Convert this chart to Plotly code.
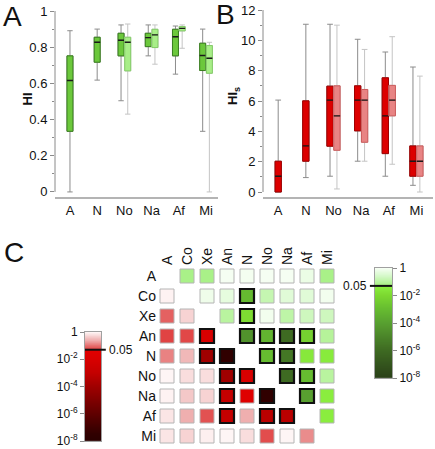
import numpy as np
import plotly.graph_objects as go

W, H = 435, 449

# ---------------- data ----------------
CATS = ["A", "N", "No", "Na", "Af", "Mi"]

# Panel A (HI): dark series for all categories, light series for No..Mi
HI_DARK_Q1 = [0.335, 0.717, 0.752, 0.803, 0.752, 0.671]
HI_DARK_MED = [0.616, 0.827, 0.838, 0.853, 0.858, 0.754]
HI_DARK_Q3 = [0.752, 0.855, 0.877, 0.877, 0.899, 0.822]
HI_DARK_LO = [0.0, 0.618, 0.504, 0.752, 0.651, 0.335]
HI_DARK_HI = [0.891, 0.900, 0.923, 0.923, 0.917, 0.900]

HI_LIGHT_Q1 = [None, None, 0.669, 0.798, 0.890, 0.656]
HI_LIGHT_MED = [None, None, 0.827, 0.868, 0.904, 0.739]
HI_LIGHT_Q3 = [None, None, 0.855, 0.899, 0.914, 0.809]
HI_LIGHT_LO = [None, None, 0.430, 0.706, 0.794, 0.0]
HI_LIGHT_HI = [None, None, 0.928, 0.923, 0.923, 0.827]

# Panel B (HIs)
HIS_DARK_Q1 = [0.0, 2.03, 3.02, 4.03, 2.53, 1.04]
HIS_DARK_MED = [1.04, 3.04, 6.06, 6.06, 5.02, 2.03]
HIS_DARK_Q3 = [2.03, 6.01, 6.98, 7.0, 7.53, 3.04]
HIS_DARK_LO = [0.0, 0.95, 1.04, 2.03, 1.04, 0.44]
HIS_DARK_HI = [6.06, 11.06, 11.06, 10.07, 9.23, 8.24]

HIS_LIGHT_Q1 = [None, None, 2.75, 3.28, 5.02, 1.04]
HIS_LIGHT_MED = [None, None, 5.02, 6.06, 6.06, 2.03]
HIS_LIGHT_Q3 = [None, None, 7.0, 6.76, 7.03, 3.04]
HIS_LIGHT_LO = [None, None, 0.2, 2.03, 1.83, 0.0]
HIS_LIGHT_HI = [None, None, 11.0, 9.4, 10.24, 7.64]

# Panel C: pairwise p-values (upper triangle -> green, lower triangle -> red)
GROUPS = ["A", "Co", "Xe", "An", "N", "No", "Na", "Af", "Mi"]
P = [
    [None, 0.06, 0.06, 0.9, 0.85, 0.9, 0.9, 0.6, 0.06],
    [0.9, None, 0.7, 0.5, 8e-4, 0.15, 0.4, 0.4, 0.8],
    [0.08, 0.5, None, 0.1, 0.012, 0.8, 0.12, 0.2, 0.2],
    [0.052, 0.055, 0.01, None, 3e-5, 5e-4, 1e-6, 5e-3, 0.09],
    [0.13, 0.3, 1e-4, 3e-8, None, 1e-3, 3e-6, 0.03, 0.035],
    [0.95, 0.6, 0.6, 1e-4, 0.01, None, 1e-6, 1e-3, 0.1],
    [0.9, 0.4, 0.5, 1e-3, 0.03, 3e-8, None, 1e-4, 0.04],
    [0.7, 0.25, 0.065, 1e-3, 0.25, 5e-4, 5e-4, None, 0.04],
    [0.7, 0.5, 0.85, 0.95, 0.6, 0.06, 0.95, 0.15, None],
]
BOLD = [
    [0, 0, 0, 0, 0, 0, 0, 0, 0],
    [0, 0, 0, 0, 1, 0, 0, 0, 0],
    [0, 0, 0, 0, 1, 0, 0, 0, 0],
    [0, 0, 1, 0, 1, 1, 1, 1, 0],
    [0, 0, 1, 1, 0, 1, 1, 0, 0],
    [0, 0, 0, 1, 1, 0, 1, 1, 0],
    [0, 0, 0, 1, 0, 1, 0, 1, 0],
    [0, 0, 0, 1, 0, 1, 1, 0, 0],
    [0, 0, 0, 0, 0, 0, 0, 0, 0],
]
BAR_TICKS = [0, -2, -4, -6, -8]
BAR_TICKTEXT = ["1", "10<sup>-2</sup>", "10<sup>-4</sup>", "10<sup>-6</sup>", "10<sup>-8</sup>"]
THRESH = 0.05

# ---------------- styling ----------------
FONT = "Liberation Sans, Arial, sans-serif"
T05 = (np.log10(THRESH) + 8) / 8
GREEN_SCALE = [
    [0.0, "#2a4018"], [0.25, "#3e6a22"], [0.5, "#58a030"], [0.625, "#66bc30"],
    [0.75, "#7cd830"], [T05 - 1e-4, "#8cf040"], [T05 + 1e-4, "#a4f080"],
    [0.92, "#d2f8c4"], [1.0, "#f8fff6"],
]
RED_SCALE = [
    [0.0, "#2a0000"], [0.0625, "#300000"], [0.25, "#600000"], [0.5, "#a00000"],
    [0.625, "#c40000"], [0.75, "#d80000"], [T05 - 1e-4, "#e20000"],
    [T05 + 1e-4, "#e04040"], [0.92, "#eeaaaa"], [1.0, "#fff8f8"],
]


def dom_x(a, b):
    return [a / W, b / W]


def dom_y(top, bottom):
    return [1 - bottom / H, 1 - top / H]


fig = go.Figure()
has_pair = [HI_LIGHT_Q1[i] is not None for i in range(len(CATS))]


def add_panel(xa, ya, dq, lq, dark_fill, dark_border, light_fill, light_border, width, off):
    for series, fill, border, whisk, sign in ((dq, dark_fill, dark_border, "#8c8c8c", -1),
                                               (lq, light_fill, light_border, "#c4c4c4", 1)):
        q1, med, q3, lo, hi = series
        pos, Q1, MED, Q3, LO, HI_ = [], [], [], [], [], []
        for i in range(len(CATS)):
            if q1[i] is None:
                continue
            pos.append(i + sign * off if has_pair[i] else i)
            Q1.append(q1[i]); MED.append(med[i]); Q3.append(q3[i]); LO.append(lo[i]); HI_.append(hi[i])
        common = dict(x=pos, width=width, xaxis=xa, yaxis=ya, showlegend=False,
                      boxpoints=False, hoverinfo="skip")
        # whiskers (gray)
        fig.add_trace(go.Box(q1=Q1, median=MED, q3=Q3, lowerfence=LO, upperfence=HI_,
                             fillcolor=fill, line=dict(color=whisk, width=1),
                             whiskerwidth=0.9, **common))
        # coloured box
        fig.add_trace(go.Box(q1=Q1, median=MED, q3=Q3, lowerfence=Q1, upperfence=Q3,
                             fillcolor=fill, line=dict(color=border, width=1),
                             whiskerwidth=0, **common))
        # median line
        fig.add_trace(go.Box(q1=MED, median=MED, q3=MED, lowerfence=MED, upperfence=MED,
                             fillcolor="rgba(0,0,0,0)", line=dict(color="#1a1a1a", width=1.4),
                             whiskerwidth=0, **common))


add_panel("x", "y",
          (HI_DARK_Q1, HI_DARK_MED, HI_DARK_Q3, HI_DARK_LO, HI_DARK_HI),
          (HI_LIGHT_Q1, HI_LIGHT_MED, HI_LIGHT_Q3, HI_LIGHT_LO, HI_LIGHT_HI),
          "#6cc83c", "#3a8020", "#a8ee88", "#84cc68", 0.22, 0.123)
add_panel("x2", "y2",
          (HIS_DARK_Q1, HIS_DARK_MED, HIS_DARK_Q3, HIS_DARK_LO, HIS_DARK_HI),
          (HIS_LIGHT_Q1, HIS_LIGHT_MED, HIS_LIGHT_Q3, HIS_LIGHT_LO, HIS_LIGHT_HI),
          "#dc0000", "#a00000", "#e88484", "#cc5c5c", 0.23, 0.125)

# Panel C: cells
for upper, scale in ((True, GREEN_SCALE), (False, RED_SCALE)):
    xs, ys, vals, lw, lc = [], [], [], [], []
    for i in range(len(GROUPS)):
        for j in range(len(GROUPS)):
            p = P[i][j]
            if p is None or (j > i) != upper:
                continue
            xs.append(j); ys.append(i); vals.append(np.log10(p))
            lw.append(2.2 if BOLD[i][j] else 1)
            lc.append("#111111" if BOLD[i][j] else "#b4b4b4")
    fig.add_trace(go.Scatter(
        x=xs, y=ys, mode="markers", xaxis="x3", yaxis="y3", showlegend=False,
        hoverinfo="skip",
        marker=dict(symbol="square", size=14, color=vals, colorscale=scale,
                    cmin=-8, cmax=0, line=dict(width=lw, color=lc)),
    ))

# colour bars
RAMP = np.linspace(-8, 0, 481)
for xa, ya, scale in (("x4", "y4", GREEN_SCALE), ("x5", "y5", RED_SCALE)):
    fig.add_trace(go.Heatmap(x=[0], y=RAMP, z=[[v] for v in RAMP], colorscale=scale,
                             zmin=-8, zmax=0, showscale=False, xaxis=xa, yaxis=ya,
                             hoverinfo="skip"))

AX_GRAY = "#b4b4b4"
TICK_GRAY = "#8a8a8a"
tickfont = dict(family=FONT, size=13, color="#111")

layout = dict(
    width=W, height=H, margin=dict(l=0, r=0, t=0, b=0, autoexpand=False),
    paper_bgcolor="white", plot_bgcolor="white",
    font=dict(family=FONT, color="#111"),
    xaxis=dict(domain=dom_x(55, 218), anchor="y", range=[-0.55, 5.44],
               tickvals=list(range(len(CATS))), ticktext=CATS, ticks="",
               showline=True, linecolor=AX_GRAY, linewidth=2, showgrid=False,
               zeroline=False, tickfont=tickfont),
    yaxis=dict(domain=dom_y(11, 197), anchor="x", range=[-0.028, 1.0],
               tickvals=[0, 0.2, 0.4, 0.6, 0.8, 1.0], ticks="outside", ticklen=4,
               tickcolor=TICK_GRAY, showline=False, showgrid=False, zeroline=False,
               minor=dict(dtick=0.1, ticks="outside", ticklen=2, tickcolor=TICK_GRAY),
               tickfont=tickfont),
    xaxis2=dict(domain=dom_x(263, 433), anchor="y2", range=[-0.55, 5.6],
                tickvals=list(range(len(CATS))), ticktext=CATS, ticks="",
                showline=True, linecolor=AX_GRAY, linewidth=2, showgrid=False,
                zeroline=False, tickfont=tickfont),
    yaxis2=dict(domain=dom_y(10, 197), anchor="x2", range=[-0.33, 12],
                tickvals=[0, 2, 4, 6, 8, 10, 12], ticks="outside", ticklen=4,
                tickcolor=TICK_GRAY, showline=False, showgrid=False, zeroline=False,
                minor=dict(dtick=1, ticks="outside", ticklen=2, tickcolor=TICK_GRAY),
                tickfont=tickfont),
    xaxis3=dict(domain=dom_x(157, 337), anchor="y3", range=[-0.5, 8.5], side="top",
                tickvals=list(range(len(GROUPS))), ticktext=GROUPS, tickangle=-90,
                ticks="", showline=False, showgrid=False, zeroline=False,
                tickfont=dict(family=FONT, size=14, color="#111")),
    yaxis3=dict(domain=dom_y(266, 446), anchor="x3", range=[8.5, -0.5],
                tickvals=list(range(len(GROUPS))), ticktext=GROUPS,
                ticks="", showline=False, showgrid=False, zeroline=False,
                tickfont=dict(family=FONT, size=14, color="#111")),
    xaxis4=dict(domain=dom_x(375, 392), anchor="y4", range=[-0.5, 0.5],
                showticklabels=False, ticks="", showgrid=False, zeroline=False,
                showline=True, mirror=True, linecolor="#a0a0a0", linewidth=1),
    yaxis4=dict(domain=dom_y(268, 378), anchor="x4", range=[-8, 0], side="right",
                tickvals=BAR_TICKS, ticktext=BAR_TICKTEXT, ticks="outside", ticklen=4,
                tickcolor=TICK_GRAY, showgrid=False, zeroline=False,
                showline=True, mirror=True, linecolor="#a0a0a0", linewidth=1,
                tickfont=dict(family=FONT, size=12, color="#111")),
    xaxis5=dict(domain=dom_x(85, 101), anchor="y5", range=[-0.5, 0.5],
                showticklabels=False, ticks="", showgrid=False, zeroline=False,
                showline=True, mirror=True, linecolor="#a0a0a0", linewidth=1),
    yaxis5=dict(domain=dom_y(332, 441), anchor="x5", range=[-8, 0], side="left",
                tickvals=BAR_TICKS, ticktext=BAR_TICKTEXT, ticks="outside", ticklen=4,
                tickcolor=TICK_GRAY, showgrid=False, zeroline=False,
                showline=True, mirror=True, linecolor="#a0a0a0", linewidth=1,
                tickfont=dict(family=FONT, size=12, color="#111")),
)
for k in list(layout):
    if k.startswith("xaxis") or k.startswith("yaxis"):
        layout[k]["automargin"] = False
        layout[k]["ticklabeloverflow"] = "allow"
fig.update_layout(**layout)

l05 = float(np.log10(THRESH))
shapes = [
    # vertical y-axis lines spanning only the tick range
    dict(type="line", xref="x domain", yref="y", x0=0, x1=0, y0=0, y1=1,
         line=dict(color=TICK_GRAY, width=1)),
    dict(type="line", xref="x2 domain", yref="y2", x0=0, x1=0, y0=0, y1=12,
         line=dict(color=TICK_GRAY, width=1)),
    # 0.05 markers on colour bars
    dict(type="line", xref="x4 domain", yref="y4", x0=-0.3, x1=1, y0=l05, y1=l05,
         line=dict(color="#111", width=2)),
    dict(type="line", xref="x5 domain", yref="y5", x0=0, x1=1.3, y0=l05, y1=l05,
         line=dict(color="#111", width=2)),
]
annotations = [
    dict(text="0.05", xref="x4 domain", yref="y4", x=-0.36, y=l05, xanchor="right",
         yanchor="middle", showarrow=False, font=dict(family=FONT, size=12, color="#111")),
    dict(text="0.05", xref="x5 domain", yref="y5", x=1.36, y=l05, xanchor="left",
         yanchor="middle", showarrow=False, font=dict(family=FONT, size=12, color="#111")),
    dict(text="<b>HI</b>", xref="paper", yref="paper", x=27.5 / W, y=1 - 99 / H,
         xanchor="center", yanchor="middle",
         textangle=-90, showarrow=False, font=dict(family=FONT, size=13, color="#111")),
    dict(text="<b>HI<sub>s</sub></b>", xref="paper", yref="paper", x=234 / W, y=1 - 96 / H,
         xanchor="center", yanchor="middle",
         textangle=-90, showarrow=False, font=dict(family=FONT, size=13, color="#111")),
]
for lab, cx, cy in (("A", 12.5, 17), ("B", 226, 15), ("C", 13.5, 252)):
    annotations.append(dict(text=lab, xref="paper", yref="paper", x=cx / W, y=1 - cy / H,
                            xanchor="center", yanchor="middle", showarrow=False,
                            font=dict(family=FONT, size=28, color="#111")))
fig.update_layout(shapes=shapes, annotations=annotations)

fig.write_html(
    "out.html",
    config={"displayModeBar": False, "staticPlot": True},
    post_script="document.body.style.margin='0px';document.body.style.overflow='hidden';",
)
